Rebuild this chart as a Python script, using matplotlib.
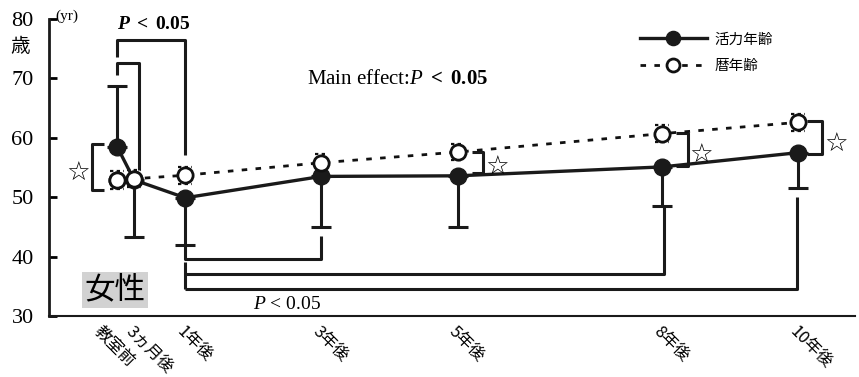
import matplotlib
matplotlib.use("Agg")
import matplotlib.pyplot as plt
import matplotlib.transforms as mtransforms

# ---------------- data ----------------
months = [0, 3, 12, 36, 60, 96, 120]
xlabels = ['教室前', '3ヵ月後', '1年後', '3年後', '5年後', '8年後', '10年後']
vitality = [58.5, 52.9, 49.9, 53.5, 53.6, 55.1, 57.5]
vitality_err_up = [10.2, 0, 0, 0, 0, 0, 0]
vitality_err_down = [0, 9.6, 7.9, 8.5, 8.6, 6.6, 6.0]
chrono = [52.9, 53.1, 53.7, 55.8, 57.6, 60.7, 62.6]
chrono_sd = [1.5, 1.4, 1.4, 1.4, 1.4, 1.4, 1.4]
yticks = [30, 40, 50, 60, 70, 80]

plt.rcParams['font.family'] = ['Liberation Serif', 'Noto Sans CJK JP']
plt.rcParams['mathtext.fontset'] = 'custom'
plt.rcParams['mathtext.rm'] = 'Liberation Serif'
plt.rcParams['mathtext.it'] = 'Liberation Serif:italic'
plt.rcParams['mathtext.bf'] = 'Liberation Serif:bold'
plt.rcParams['mathtext.bfit'] = 'Liberation Serif:italic:bold'

fig = plt.figure(figsize=(8.59, 3.77), dpi=100)
ax = fig.add_axes([49/859, 1-316/377, 806/859, 297/377])
ax.set_xlim(-12, 130)
ax.set_ylim(30, 80)

# chronological age (dotted, open)
ax.plot(months, chrono, linestyle=(0, (2, 3)), color='#111111', lw=2.0,
        marker='o', ms=11, mfc='white', mec='#111111', mew=2.0, zorder=4,
        label='暦年齢')
# small dashed SD caps around open circles
for m, c, s in zip(months, chrono, chrono_sd):
    for yy in (c - s, c + s):
        ax.plot([m - 1.2, m + 1.2], [yy, yy], linestyle=(0, (1.5, 1.5)),
                color='#111111', lw=1.6, zorder=3)

# vitality age (solid, filled)
ax.errorbar(months, vitality, yerr=[vitality_err_down, vitality_err_up],
            fmt='none', ecolor='#1a1a1a', elinewidth=2.2, capsize=7,
            capthick=2.2, zorder=2)
ax.plot(months, vitality, '-', color='#1a1a1a', lw=2.4, marker='o', ms=12,
        mfc='#1a1a1a', mec='#1a1a1a', zorder=3, label='活力年齢')
# open circles on top at the overlapping early points
ax.plot(months[:2], chrono[:2], linestyle='none', marker='o', ms=11,
        mfc='white', mec='#111111', mew=2.0, zorder=5)

lkw = dict(color='#1a1a1a', lw=2.2, solid_capstyle='butt', clip_on=False)

# top significance brackets
ax.plot([0, 0, 12, 12], [73.6, 76.5, 76.5, 57.1], **lkw)
ax.plot([0, 0, 3.9, 3.9], [70.6, 72.6, 72.6, 54.6], **lkw)
ax.text(0, 79.0, r'$\mathbfit{P}$ $\mathbf{<\ 0.05}$', fontsize=14,
        ha='left', va='center')

# bottom significance brackets
ax.plot([12, 12, 36, 36], [42.0, 39.6, 39.6, 43.5], **lkw)
ax.plot([12, 12], [39.1, 34.5], **lkw)
ax.plot([12, 96.4, 96.4], [37.1, 37.1, 48.3], **lkw)
ax.plot([12, 119.7, 119.7], [34.5, 34.5, 50.0], **lkw)
ax.text(24, 31.9, r'$P$ < 0.05', fontsize=14, ha='left', va='center')

# star brackets (vitality vs chronological)
ax.plot([-2.3, -4.4, -4.4, -2.3], [59.0, 59.0, 51.2, 51.2], **lkw)
ax.plot([62.5, 64.4, 64.4, 62.5], [57.6, 57.6, 54.1, 54.1], **lkw)
ax.plot([98.5, 100.5, 100.5, 98.5], [60.8, 60.8, 55.2, 55.2], **lkw)
ax.plot([121.6, 124.2, 124.2, 121.6], [62.8, 62.8, 57.2, 57.2], **lkw)
star_kw = dict(fontsize=19, ha='center', va='center', family='DejaVu Sans')
ax.text(-6.9, 53.9, '☆', **star_kw)
ax.text(66.9, 54.9, '☆', **star_kw)
ax.text(102.9, 56.9, '☆', **star_kw)
ax.text(126.7, 58.8, '☆', **star_kw)

# main effect text
ax.text(0.32, 0.795, r'Main effect:$\mathit{P}$ $\mathbf{<\ 0.05}$',
        transform=ax.transAxes, fontsize=15, ha='left', va='center')

# 女性 label
ax.text(0.082, 0.0875, '女性', transform=ax.transAxes, fontsize=22,
        family='Noto Sans CJK JP', ha='center', va='center',
        bbox=dict(facecolor='#d2d2d2', edgecolor='none', pad=1.5))

# (yr) and 歳
ax.text(0.008, 1.01, '(yr)', transform=ax.transAxes, fontsize=11,
        ha='left', va='center')
fig.text(20/859, 1-47/377, '歳', fontsize=14, family='Noto Sans CJK JP',
         ha='center', va='center')

# legend (活力年齢 first)
handles, labels = ax.get_legend_handles_labels()
order = [labels.index('活力年齢'), labels.index('暦年齢')]
leg = ax.legend([handles[i] for i in order], [labels[i] for i in order],
                loc='upper left', bbox_to_anchor=(0.733, 0.955),
                frameon=False, handlelength=4.6,
                labelspacing=0.9, borderpad=0, borderaxespad=0,
                handletextpad=0.5, markerscale=0.85,
                prop={'family': 'Noto Sans CJK JP', 'size': 10.5})

# axes styling
for s in ['top', 'right']:
    ax.spines[s].set_visible(False)
ax.spines['left'].set_linewidth(2.0)
ax.spines['bottom'].set_linewidth(1.5)
ax.spines['left'].set_color('#1a1a1a')
ax.spines['bottom'].set_color('#1a1a1a')

ax.set_yticks(yticks)
ax.set_yticklabels([str(v) for v in yticks], fontsize=16)
ax.tick_params(axis='y', direction='in', length=6, width=2.0, pad=11)

ax.set_xticks(months)
ax.set_xticklabels(xlabels, rotation=-45, ha='left', va='top',
                   rotation_mode='anchor', fontsize=12,
                   family='Noto Sans CJK JP')
ax.tick_params(axis='x', length=0, pad=5)
first = ax.get_xticklabels()[0]
first.set_transform(first.get_transform() +
                    mtransforms.ScaledTranslation(-14/100, 0, fig.dpi_scale_trans))

fig.savefig('out.png', dpi=100)
